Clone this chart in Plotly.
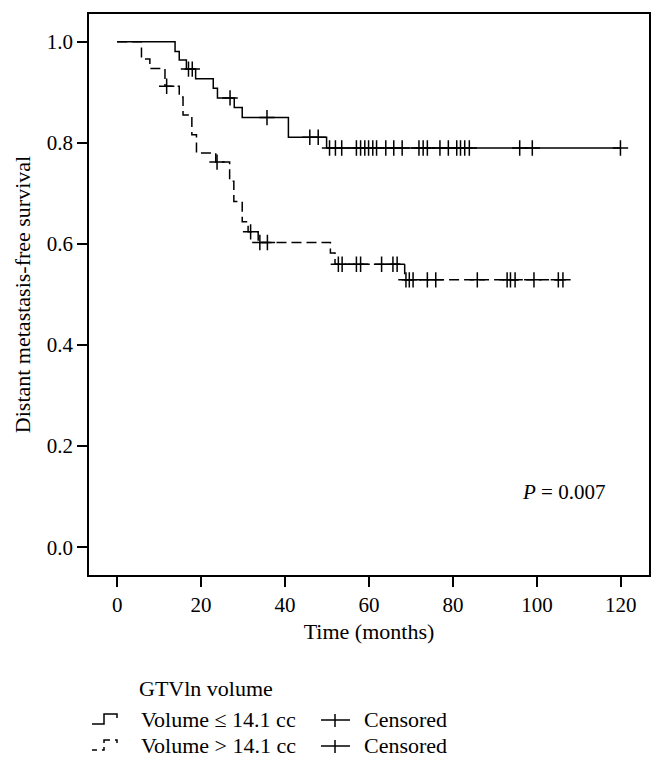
import plotly.graph_objects as go

# ---------------- data ----------------
solid_times = [0, 13.8, 14.8, 16.5, 18.7, 22.9, 23.9, 27.9, 29.8, 40.8, 49.9, 120]
solid_surv = [1.0, 0.981, 0.964, 0.946, 0.927, 0.908, 0.889, 0.870, 0.850, 0.811, 0.790, 0.790]
solid_censor = [17.0, 17.9, 26.9, 35.7, 45.9, 47.9, 50.6, 52.0, 53.5, 57.0, 58.0, 59.0,
                59.9, 60.9, 61.8, 64.0, 65.9, 67.9, 71.9, 72.9, 73.9, 76.9, 78.9, 80.9,
                81.8, 82.8, 83.9, 95.9, 98.9, 119.9]

dashed_times = [0, 5.8, 7.8, 11.4, 14.8, 15.7, 17.8, 18.9, 23.5, 26.8, 27.8, 29.8, 31.2,
                33.6, 50.8, 51.9, 68.5, 106.2]
dashed_surv = [1.0, 0.966, 0.947, 0.912, 0.891, 0.855, 0.816, 0.780, 0.762, 0.724, 0.684,
               0.644, 0.624, 0.603, 0.582, 0.560, 0.529, 0.529]
dashed_censor = [11.8, 23.8, 31.8, 34.0, 35.8, 52.7, 53.6, 57.0, 58.0, 63.0, 65.7, 66.7,
                 68.8, 69.6, 70.5, 73.9, 75.9, 85.8, 92.9, 93.7, 94.8, 99.3, 105.1, 106.2]

x_ticks = [0, 20, 40, 60, 80, 100, 120]
y_ticks = [0.0, 0.2, 0.4, 0.6, 0.8, 1.0]

group_labels = ["Volume \u2264 14.1 cc", "Volume > 14.1 cc"]
legend_title = "GTVln volume"
p_text = "<i>P</i> = 0.007"


def step_value(times, surv, t):
    v = surv[0]
    for ti, si in zip(times, surv):
        if ti <= t:
            v = si
    return v


FONT = "Liberation Serif"
FS = 21
FS_T = 22
DASH = "10px,5px"
LW = 1.5

fig = go.Figure()
fig.add_trace(go.Scatter(x=solid_times, y=solid_surv, mode="lines", line_shape="hv",
                         line=dict(color="black", width=LW), showlegend=False))
fig.add_trace(go.Scatter(x=dashed_times, y=dashed_surv, mode="lines", line_shape="hv",
                         line=dict(color="black", width=LW, dash=DASH), showlegend=False))
fig.add_trace(go.Scatter(x=solid_censor,
                         y=[step_value(solid_times, solid_surv, t) for t in solid_censor],
                         mode="markers", showlegend=False,
                         marker=dict(symbol="cross-thin", size=11, color="black",
                                     line=dict(color="black", width=LW))))
fig.add_trace(go.Scatter(x=dashed_censor,
                         y=[step_value(dashed_times, dashed_surv, t) for t in dashed_censor],
                         mode="markers", showlegend=False,
                         marker=dict(symbol="cross-thin", size=11, color="black",
                                     line=dict(color="black", width=LW))))

# plot box in pixels
L, R, T, B = 89, 649, 14, 575
W, H = 664, 769


def px(x):
    return (x - L) / (R - L)


def py(y):
    return (B - y) / (B - T)


fig.add_annotation(x=96, y=0.11, xref="x", yref="y", text=p_text, showarrow=False,
                   xanchor="left", yanchor="middle", font=dict(family=FONT, size=FS, color="black"))

shapes = []
annotations = []
annotations.append(dict(x=px(137), y=py(688), xref="paper", yref="paper", text=legend_title,
                        showarrow=False, xanchor="left", yanchor="middle",
                        font=dict(family=FONT, size=FS_T, color="black")))
rows = [719, 745]
for i, yy in enumerate(rows):
    annotations.append(dict(x=px(139), y=py(yy), xref="paper", yref="paper", text=group_labels[i],
                            showarrow=False, xanchor="left", yanchor="middle",
                            font=dict(family=FONT, size=FS_T, color="black")))
    annotations.append(dict(x=px(362), y=py(yy), xref="paper", yref="paper", text="Censored",
                            showarrow=False, xanchor="left", yanchor="middle",
                            font=dict(family=FONT, size=FS_T, color="black")))
    shapes.append(dict(type="line", xref="paper", yref="paper", x0=px(321), x1=px(350),
                       y0=py(yy + 1), y1=py(yy + 1), line=dict(color="black", width=LW)))
    shapes.append(dict(type="line", xref="paper", yref="paper", x0=px(335), x1=px(335),
                       y0=py(yy - 5), y1=py(yy + 8), line=dict(color="black", width=LW)))

path_pts = [(92, rows[0] + 5), (104, rows[0] + 5), (104, rows[0] - 5), (117, rows[0] - 5), (117, rows[0] - 1)]
path = "M " + " L ".join(f"{px(a):.5f},{py(b):.5f}" for a, b in path_pts)
shapes.append(dict(type="path", xref="paper", yref="paper", path=path,
                   line=dict(color="black", width=LW)))
y2 = rows[1]
for seg in [[(92, y2 + 5), (97, y2 + 5)],
            [(102, y2 + 5), (104, y2 + 5), (104, y2 + 2)],
            [(104, y2 - 2), (104, y2 - 5), (110, y2 - 5)],
            [(115, y2 - 5), (117, y2 - 5), (117, y2 - 2)]]:
    p = "M " + " L ".join(f"{px(a):.5f},{py(b):.5f}" for a, b in seg)
    shapes.append(dict(type="path", xref="paper", yref="paper", path=p,
                       line=dict(color="black", width=LW)))

x_range = [-6.7, 126.7]
y_range = [-0.055, 1.055]

fig.update_layout(
    width=W, height=H,
    margin=dict(l=L, r=W - R, t=T, b=H - B),
    paper_bgcolor="white", plot_bgcolor="white",
    font=dict(family=FONT, size=FS, color="black"),
    shapes=shapes,
    annotations=list(fig.layout.annotations) + annotations,
    xaxis=dict(range=x_range, tickvals=x_ticks, ticktext=[str(v) for v in x_ticks],
               ticks="outside", ticklen=10, tickwidth=LW, tickcolor="black",
               showline=True, linecolor="black", linewidth=LW, mirror=True,
               showgrid=False, zeroline=False,
               title=dict(text="Time (months)", standoff=8, font=dict(size=FS_T)),
               tickfont=dict(size=FS)),
    yaxis=dict(range=y_range, tickvals=y_ticks, ticktext=[f"{v:.1f}" for v in y_ticks],
               ticks="outside", ticklen=10, tickwidth=LW, tickcolor="black",
               showline=True, linecolor="black", linewidth=LW, mirror=True,
               showgrid=False, zeroline=False,
               title=dict(text="Distant metastasis-free survival", standoff=10, font=dict(size=FS_T)),
               tickfont=dict(size=FS)),
)

fig.write_html("out.html", config={"displayModeBar": False},
               post_script="document.body.style.margin='0';")
